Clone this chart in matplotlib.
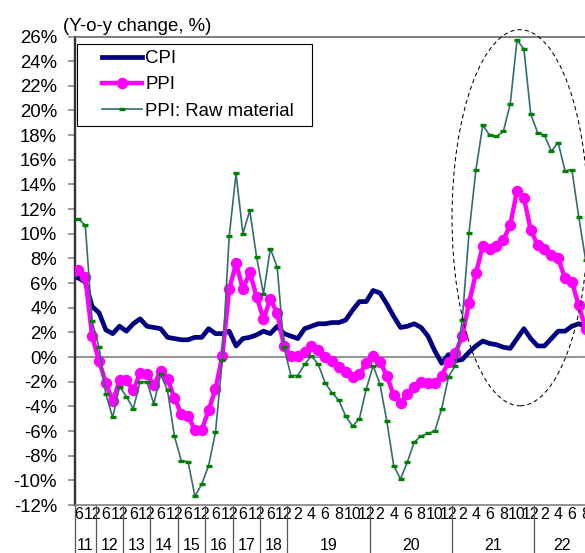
import matplotlib
matplotlib.use("Agg")
import matplotlib.pyplot as plt
import matplotlib.transforms as mtransforms
from matplotlib import font_manager
from matplotlib.font_manager import FontProperties
from matplotlib.patches import Ellipse, Rectangle
import numpy as np

# ---- data -------------------------------------------------------------
years = ["11", "12", "13", "14", "15", "16", "17", "18", "19", "20", "21", "22"]
# months covered in each year (quarterly until 2018, monthly afterwards)
year_months = [
    [6, 9, 12],
    [3, 6, 9, 12], [3, 6, 9, 12], [3, 6, 9, 12], [3, 6, 9, 12],
    [3, 6, 9, 12], [3, 6, 9, 12], [3, 6, 9, 12],
    list(range(1, 13)), list(range(1, 13)), list(range(1, 13)),
    list(range(1, 9)),
]

cpi = [6.4, 6.1, 4.1,
       3.6, 2.2, 1.9, 2.5,
       2.1, 2.7, 3.1, 2.5,
       2.4, 2.3, 1.6, 1.5,
       1.4, 1.4, 1.6, 1.6,
       2.3, 1.9, 1.9, 2.1,
       0.9, 1.5, 1.6, 1.8,
       2.1, 1.9, 2.5, 1.9,
       1.7, 1.5, 2.3, 2.5, 2.7, 2.7, 2.8, 2.8, 3.0, 3.8, 4.5, 4.5,
       5.4, 5.2, 4.3, 3.3, 2.4, 2.5, 2.7, 2.4, 1.7, 0.5, -0.5, 0.2,
       -0.3, -0.2, 0.4, 0.9, 1.3, 1.1, 1.0, 0.8, 0.7, 1.5, 2.3, 1.5,
       0.9, 0.9, 1.5, 2.1, 2.1, 2.5, 2.7, 2.5]

ppi = [7.1, 6.5, 1.7,
       -0.3, -2.1, -3.6, -1.9,
       -1.9, -2.7, -1.3, -1.4,
       -2.3, -1.1, -1.8, -3.3,
       -4.6, -4.8, -5.9, -5.9,
       -4.3, -2.6, 0.1, 5.5,
       7.6, 5.5, 6.9, 4.9,
       3.1, 4.7, 3.6, 0.9,
       0.1, 0.1, 0.4, 0.9, 0.6, 0.0, -0.3, -0.8, -1.2, -1.6, -1.4, -0.5,
       0.1, -0.4, -1.5, -3.1, -3.7, -3.0, -2.4, -2.0, -2.1, -2.1, -1.5, -0.4,
       0.3, 1.7, 4.4, 6.8, 9.0, 8.8, 9.0, 9.5, 10.7, 13.5, 12.9, 10.3,
       9.1, 8.8, 8.3, 8.0, 6.4, 6.1, 4.2, 2.3]

raw = [11.2, 10.7, 2.9,
       0.8, -3.0, -4.9, -2.4,
       -3.2, -4.2, -2.0, -2.0,
       -3.8, -1.4, -2.7, -6.4,
       -8.4, -8.5, -11.3, -10.3,
       -8.8, -6.1, -0.2, 9.8,
       14.9, 10.0, 11.9, 8.1,
       5.1, 8.8, 7.3, 0.8,
       -1.5, -1.5, -0.6, 0.1, -0.6, -2.1, -2.9, -3.5, -4.8, -5.6, -5.0, -2.6,
       -0.7, -2.2, -5.2, -8.8, -9.9, -8.5, -6.9, -6.4, -6.2, -6.0, -4.2, -1.6,
       -0.7, 3.0, 10.1, 15.2, 18.8, 18.0, 17.9, 18.3, 20.5, 25.7, 25.0, 19.7,
       18.2, 18.0, 16.7, 17.4, 15.1, 15.2, 11.4, 7.9]

y_ticks = list(range(-12, 27, 2))
series_names = ["CPI", "PPI", "PPI: Raw material"]

# ---- fonts ------------------------------------------------------------
main_font = "Liberation Sans"
plt.rcParams["font.family"] = [main_font, "DejaVu Sans"]


def _is_regular(entry):
    w = entry.weight
    if isinstance(w, str):
        w = {"normal": 400, "regular": 400, "book": 400}.get(w.lower(), 0)
    return w == 400 and entry.style == "normal"


narrow_prop = FontProperties(family=main_font, size=11.5)
for name, size in [("Liberation Sans Narrow", 14.0),
                   ("Noto Sans Condensed", 14.0),
                   ("Noto Sans SemiCondensed", 12.5)]:
    hits = [f for f in font_manager.fontManager.ttflist
            if f.name == name and _is_regular(f)]
    if hits:
        narrow_prop = FontProperties(fname=hits[0].fname, size=size)
        break

# ---- layout helpers ---------------------------------------------------
month_labels = []
boundaries = [-0.5]
year_centers = []
pos = 0
for months in year_months:
    quarterly = len(months) <= 4
    for m in months:
        if quarterly:
            month_labels.append(str(m) if m in (6, 12) else "")
        else:
            month_labels.append(str(m) if m % 2 == 0 else "")
    year_centers.append(pos + (len(months) - 1) / 2)
    pos += len(months)
    boundaries.append(pos - 0.5)
x = np.arange(len(cpi))

# ---- figure -----------------------------------------------------------
W, H = 585, 553
fig = plt.figure(figsize=(W / 100, H / 100), dpi=100)
fig.patch.set_facecolor("white")
ax = fig.add_axes([75 / W, 1 - 505 / H, 514 / W, 468.5 / H])

ax.axhline(0, color="#808080", lw=1.2, zorder=2)
l_cpi, = ax.plot(x, cpi, color="#000080", lw=3.4, solid_joinstyle="round",
                 zorder=3, label=series_names[0])
l_ppi, = ax.plot(x, ppi, color="#FF00FF", lw=3.2, marker="o", ms=7.2,
                 solid_joinstyle="round", zorder=4, label=series_names[1])
l_raw, = ax.plot(x, raw, color="#336E6E", lw=1.2, marker="_", ms=4.5,
                 mew=2.4, mec="#008000", zorder=5, label=series_names[2])

ax.set_xlim(-0.5, len(x) - 0.5)
ax.set_ylim(-12, 26)

# spines
ax.spines["right"].set_visible(False)
ax.spines["top"].set_color("#666666")
ax.spines["top"].set_linewidth(1.2)
ax.spines["bottom"].set_color("#808080")
ax.spines["bottom"].set_linewidth(1.2)
ax.spines["left"].set_color("#333333")
ax.spines["left"].set_linewidth(1.7)

# y axis
ax.set_yticks(y_ticks)
ax.set_yticklabels([f"{v}%" for v in y_ticks])
ax.tick_params(axis="y", direction="out", length=5, width=1.1,
               color="#808080", pad=8, labelsize=13.4)

# x axis: month labels and year separators
ax.set_xticks(x)
ax.set_xticklabels(month_labels, fontproperties=narrow_prop)
ax.tick_params(axis="x", which="major", length=0, pad=1.5)
ax.set_xticks(boundaries, minor=True)
ax.tick_params(axis="x", which="minor", direction="out", length=35,
               width=0.9, color="#555555")

trans = mtransforms.blended_transform_factory(ax.transData, ax.transAxes)
for c, yr in zip(year_centers, years):
    ax.text(c, -40 / 468.5, yr, transform=trans, ha="center", va="center",
            fontproperties=narrow_prop, clip_on=False)

# highlight around the 2021-22 surge
ax.add_patch(Ellipse((64.44, 11.3), width=19.85, height=30.5, fill=False,
                     ec="black", lw=0.75, ls=(0, (4, 3)), zorder=6,
                     clip_on=False))

# y-axis caption
fig.text(63 / W, 1 - 31 / H, "(Y-o-y change, %)", ha="left", va="baseline",
         fontsize=13.4)

# legend with a plain rectangular frame
leg = ax.legend(handles=[l_cpi, l_ppi, l_raw], loc="upper left",
                bbox_to_anchor=(101.7 / W, 1 - 50 / H),
                bbox_transform=fig.transFigure, frameon=False, borderpad=0,
                borderaxespad=0, handlelength=2.15, handletextpad=0.18,
                labelspacing=0.5, fontsize=13.4, numpoints=1)
leg.set_zorder(7)
fig.add_artist(Rectangle((77 / W, 1 - 126 / H), 235 / W, 82 / H,
                         transform=fig.transFigure, fill=False, ec="black",
                         lw=0.8, zorder=7))

fig.savefig("out.png", dpi=100)
